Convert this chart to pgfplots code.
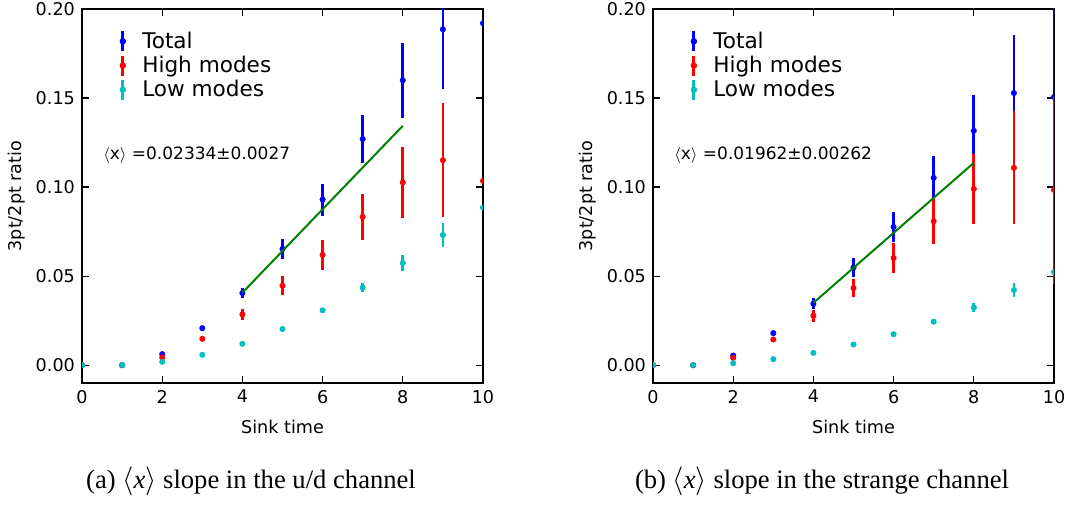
\documentclass[border=0pt]{standalone}
\usepackage{pgfplots}
\pgfplotsset{compat=1.18}
\usepackage{fontspec}
\setmainfont{DejaVu Sans}
\newfontfamily\capfont{Liberation Serif}
\definecolor{mplblue}{RGB}{0,0,255}
\definecolor{mplred}{RGB}{255,0,0}
\definecolor{mplcyan}{RGB}{0,191,191}
\definecolor{mplgreen}{RGB}{0,128,0}

\pgfplotsset{
  panel/.style={
    width=200.5pt, height=187pt, scale only axis,
    xmin=0, xmax=10, ymin=-0.01, ymax=0.20,
    xtick={0,2,4,6,8,10}, ytick={0,0.05,0.10,0.15,0.20},
    tick align=inside, major tick length=3.5pt,
    tick style={black, line width=0.6pt},
    axis line style={line width=0.8pt},
    yticklabel style={/pgf/number format/.cd, fixed, fixed zerofill, precision=2},
    /pgf/number format/assume math mode=true,
    ticklabel style={font=\fontsize{8.8}{10}\selectfont},
    label style={font=\fontsize{8.8}{10}\selectfont},
    xlabel={Sink time}, ylabel={3pt/2pt ratio},
    xlabel style={at={(axis description cs:0.5,-0.118)}, anchor=center},
    ylabel style={at={(axis description cs:-0.162,0.5)}, anchor=center, rotate=0},
    clip marker paths=true,
    legend style={at={(axis description cs:0.06,0.962)}, anchor=north west,
      draw=none, fill=none, font=\fontsize{10.8}{12.5}\selectfont,
      row sep=-1.6pt, cells={anchor=west}},
    legend image code/.code={
      \path (-5pt,0) (7.5pt,0);
      \draw[line width=1.4pt] (0pt,-5pt) -- (0pt,5pt);
      \fill (0pt,0pt) circle (1.4pt);
    },
  },
  pt/.style={only marks, color=#1, mark=*, mark size=1.3pt,
    mark options={draw=#1, fill=#1},
    error bars/.cd, y dir=both, y explicit, error mark=none,
    error bar style={line width=1.4pt, color=#1}},
}

\begin{document}
\begin{tikzpicture}
\path[use as bounding box] (-41pt,-61.5pt) rectangle (494pt,191.5pt);

% (a) u/d channel
\begin{axis}[panel]
\addplot[pt=mplblue] coordinates {
  (0,0) +- (0,0) (1,0) +- (0,0) (2,0.0062) +- (0,0) (3,0.0208) +- (0,0)
  (4,0.0405) +- (0,0.003) (5,0.0653) +- (0,0.0055) (6,0.093) +- (0,0.009)
  (7,0.127) +- (0,0.0135) (8,0.160) +- (0,0.021) (9,0.1886) +- (0,0.0336)
  (10,0.192) +- (0,0)};
\addlegendentry{Total}
\addplot[pt=mplred] coordinates {
  (0,0) +- (0,0) (1,0) +- (0,0) (2,0.0043) +- (0,0) (3,0.0148) +- (0,0)
  (4,0.0285) +- (0,0.003) (5,0.0446) +- (0,0.0054) (6,0.0619) +- (0,0.0085)
  (7,0.0833) +- (0,0.0128) (8,0.1026) +- (0,0.020) (9,0.1151) +- (0,0.032)
  (10,0.1035) +- (0,0)};
\addlegendentry{High modes}
\addplot[pt=mplcyan] coordinates {
  (0,0) +- (0,0) (1,0) +- (0,0) (2,0.0019) +- (0,0) (3,0.0058) +- (0,0)
  (4,0.012) +- (0,0) (5,0.0203) +- (0,0) (6,0.0308) +- (0,0)
  (7,0.0435) +- (0,0.0026) (8,0.0574) +- (0,0.0044) (9,0.0731) +- (0,0.0068)
  (10,0.0885) +- (0,0)};
\addlegendentry{Low modes}
\addplot[mplgreen, line width=1pt, forget plot] coordinates {(4,0.0407) (8,0.1344)};
\node[anchor=base west, inner sep=0pt, font=\fontsize{8.5}{10}\selectfont]
  at (axis cs:0.52,0.1155) {$\langle$x$\rangle$ =0.02334±0.0027};
\end{axis}
\node[anchor=base, inner sep=0pt, font=\capfont\fontsize{13.3}{15}\selectfont]
  at (84.5pt,-53pt) {(a) $\langle$\textit{x}$\rangle$ slope in the u/d channel};

% (b) strange channel
\begin{axis}[panel, xshift=285.5pt]
\addplot[pt=mplblue] coordinates {
  (0,0) +- (0,0) (1,0) +- (0,0) (2,0.0054) +- (0,0) (3,0.018) +- (0,0)
  (4,0.0345) +- (0,0.003) (5,0.0549) +- (0,0.0053) (6,0.0776) +- (0,0.0085)
  (7,0.1052) +- (0,0.012) (8,0.1316) +- (0,0.020) (9,0.1528) +- (0,0.0325)
  (10,0.1506) +- (0,0.05)};
\addlegendentry{Total}
\addplot[pt=mplred] coordinates {
  (0,0) +- (0,0) (1,0) +- (0,0) (2,0.0041) +- (0,0) (3,0.0144) +- (0,0)
  (4,0.0278) +- (0,0.0033) (5,0.0433) +- (0,0.005) (6,0.0602) +- (0,0.0084)
  (7,0.0808) +- (0,0.0128) (8,0.099) +- (0,0.0197) (9,0.1108) +- (0,0.0318)
  (10,0.0984) +- (0,0.053)};
\addlegendentry{High modes}
\addplot[pt=mplcyan] coordinates {
  (0,0) +- (0,0) (1,0) +- (0,0) (2,0.0011) +- (0,0) (3,0.0034) +- (0,0)
  (4,0.0069) +- (0,0) (5,0.0116) +- (0,0) (6,0.0174) +- (0,0)
  (7,0.0244) +- (0,0) (8,0.0324) +- (0,0.0024) (9,0.0422) +- (0,0.004)
  (10,0.0523) +- (0,0)};
\addlegendentry{Low modes}
\addplot[mplgreen, line width=1pt, forget plot] coordinates {(4,0.035) (8,0.1136)};
\node[anchor=base west, inner sep=0pt, font=\fontsize{8.5}{10}\selectfont]
  at (axis cs:0.52,0.1155) {$\langle$x$\rangle$ =0.01962±0.00262};
\end{axis}
\node[anchor=base, inner sep=0pt, font=\capfont\fontsize{13.3}{15}\selectfont]
  at (370pt,-53pt) {(b) $\langle$\textit{x}$\rangle$ slope in the strange channel};
\end{tikzpicture}
\end{document}
